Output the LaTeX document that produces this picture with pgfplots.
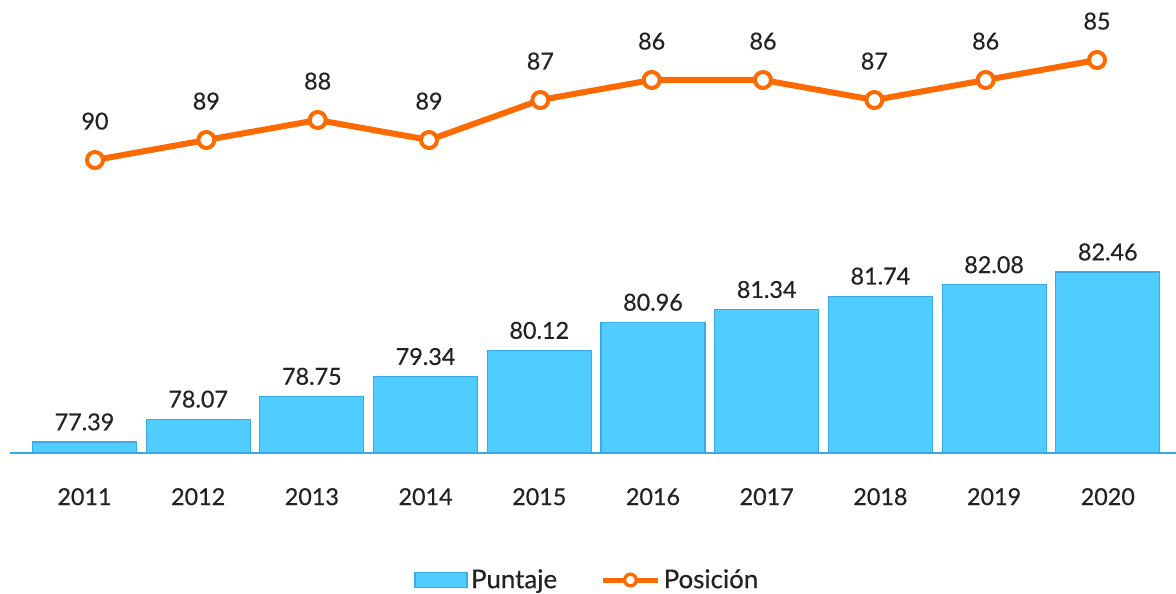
\documentclass[border=0pt]{standalone}
\usepackage{fontspec}
\setmainfont{Lato}
\newfontfamily\medfont{Lato}[FakeBold=0.5]
\usepackage{pgfplots}
\pgfplotsset{compat=1.18}
\usepackage{pgfplotstable}
\definecolor{barfill}{HTML}{50CCFF}
\definecolor{barline}{HTML}{3AAAE6}
\definecolor{lineor}{HTML}{FF6A00}
\definecolor{txt}{HTML}{222222}
\pgfplotstableread{
x v
0 77.39
1 78.07
2 78.75
3 79.34
4 80.12
5 80.96
6 81.34
7 81.74
8 82.08
9 82.46
}\bardata
\pgfplotstableread{
x p
0 90
1 89
2 88
3 89
4 87
5 86
6 86
7 87
8 86
9 85
}\posdata
\begin{document}
\begin{tikzpicture}[font=\medfont\fontsize{14}{16}\selectfont, text=txt]
\path[use as bounding box] (0,0) rectangle (705.6pt,355.8pt);
\begin{axis}[
 at={(6pt,84pt)}, anchor=south west, scale only axis,
 width=699.6pt, height=108.6pt,
 xmin=-0.655, xmax=9.6, ymin=0, ymax=5.4,
 axis x line=bottom, axis y line=none,
 axis line style={-, draw=barline, line width=1.2pt},
 xtick={0,1,2,3,4,5,6,7,8,9},
 xticklabels={2011,2012,2013,2014,2015,2016,2017,2018,2019,2020},
 xtick style={draw=none},
 x tick label style={anchor=base, yshift=-29.1pt, text=txt, font=\medfont\fontsize{14}{16}\selectfont},
 ytick=\empty,
 clip=false,
 /pgf/number format/assume math mode=true,
 legend style={at={(0.4957,-0.7017)}, anchor=center, draw=none, fill=none,
   legend columns=2, font=\medfont\fontsize{15.5}{17}\selectfont, text=txt,
   /tikz/every even column/.append style={column sep=24pt}},
]
\addplot[ybar, bar width=62.4pt, bar shift=0pt, fill=barfill, draw=barline, line width=0.7pt,
  point meta=explicit,
  nodes near coords={\pgfmathprintnumber[fixed,fixed zerofill,precision=2]{\pgfplotspointmeta}},
  every node near coord/.append style={anchor=base, inner sep=0pt, yshift=7pt, text=txt, font=\medfont\fontsize{14}{16}\selectfont},
  legend image code/.code={\draw[fill=barfill,draw=barline,line width=1pt] (0pt,-4.5pt) rectangle (31pt,4.5pt);}
] table[x=x, y expr=\thisrow{v}-77.06, meta=v]{\bardata};
\addlegendentry{Puntaje}
\addlegendimage{legend image code/.code={\draw[lineor, line width=3pt] (0pt,0pt) -- (33pt,0pt); \draw[lineor, line width=2pt, fill=white] (16.5pt,0pt) circle (3.5pt);}}
\addlegendentry{Posición}
\end{axis}
\begin{axis}[
 at={(57pt,259.8pt)}, anchor=south west, scale only axis,
 width=601.2pt, height=60pt,
 xmin=0, xmax=9, ymin=85, ymax=90, y dir=reverse,
 hide axis, clip=false,
 /pgf/number format/assume math mode=true,
]
\addplot[lineor, line width=3.6pt, line join=round, mark=*, mark size=4.8pt,
  mark options={fill=white, draw=lineor, line width=2.4pt},
  nodes near coords,
  every node near coord/.append style={anchor=base, inner sep=0pt, yshift=18.3pt, text=txt, font=\medfont\fontsize{14}{16}\selectfont}
] table[x=x, y=p]{\posdata};
\end{axis}
\end{tikzpicture}
\end{document}
